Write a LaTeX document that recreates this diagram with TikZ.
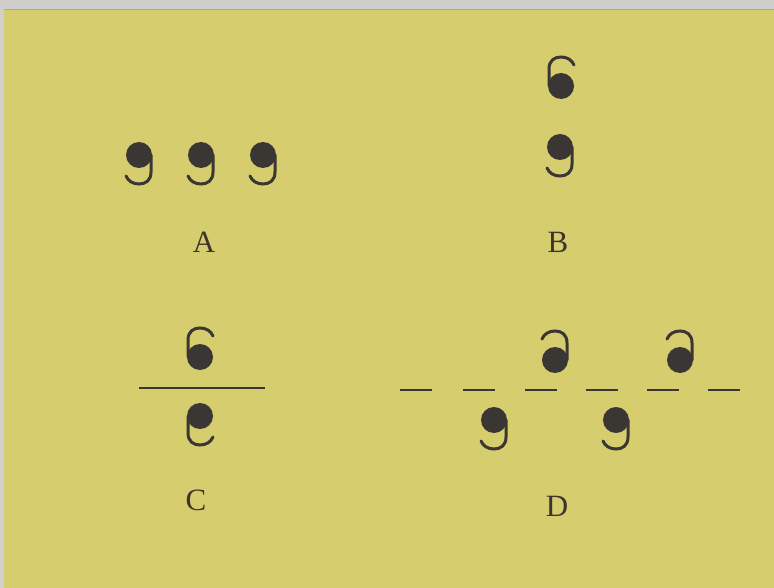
\documentclass[tikz,border=0pt]{standalone}
\usepackage{fontspec}
\setmainfont{Liberation Serif}
\definecolor{paper}{RGB}{214,205,110}
\definecolor{framegray}{RGB}{208,207,203}
\definecolor{ink}{RGB}{58,54,52}
\definecolor{txt}{RGB}{62,52,42}
\tikzset{
  comma/.pic={
    \fill[ink] (0,0) circle[radius=13];
    \draw[ink, line width=3pt, line cap=round]
      (12,0) -- (12,17) .. controls (12,26) and (6,29) .. (0,29)
      .. controls (-6,29) and (-11,26) .. (-13,21);
  },
  lab/.style={text=txt, font=\fontsize{31}{31}\selectfont, inner sep=0pt},
  rulestroke/.style={draw=ink, line width=2.5pt}
}
\begin{document}
\begin{tikzpicture}[x=1pt,y=-1pt]
\useasboundingbox (0,0) rectangle (774,588);
\fill[framegray] (0,0) rectangle (774,588);
\fill[paper] (4,9) rectangle (774,588);
\draw[paper!85!black, line width=0.8pt] (4,9) -- (774,9);
% A
\pic at (139,155) {comma};
\pic at (201,155) {comma};
\pic at (263,155) {comma};
\node[lab] (labA) at (204,242) {A};
% B
\pic[rotate=180] at (561,86) {comma};
\pic at (560,147) {comma};
\node[lab] (labB) at (558,242) {B};
% C
\pic[rotate=180] at (200,357) {comma};
\coordinate (cl) at (139,388);
\coordinate (cr) at (265,388);
\draw[rulestroke] (cl) -- (cr);
\pic[xscale=-1] at (200,416) {comma};
\node[lab] (labC) at (196,500) {C};
% D
\foreach \x in {400,463,525,586,647,708}
  \draw[rulestroke] (\x,390) -- ++(32,0);
\pic[yscale=-1] at (555,360) {comma};
\pic[yscale=-1] at (680,360) {comma};
\pic at (494,420) {comma};
\pic at (616,420) {comma};
\node[lab] (labD) at (557,506) {D};
\end{tikzpicture}
\end{document}
